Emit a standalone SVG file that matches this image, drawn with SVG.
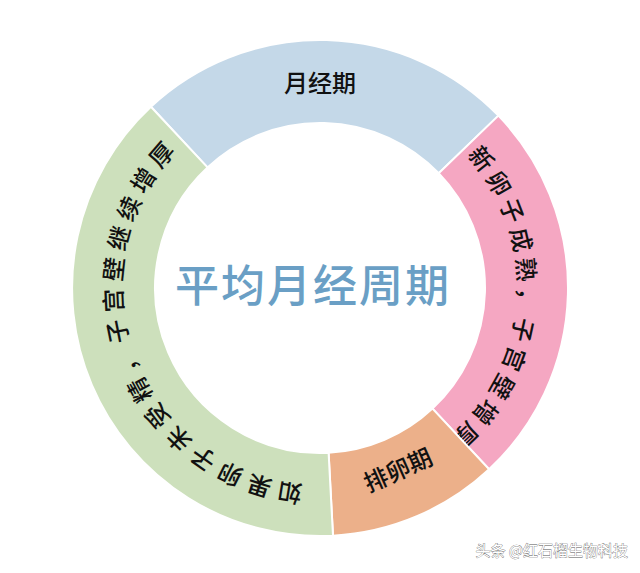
<svg xmlns="http://www.w3.org/2000/svg" width="640" height="573" viewBox="0 0 640 573">
<style>
.seg{stroke:#fff;stroke-width:2}
.lbl{font-family:"Noto Sans CJK SC",sans-serif;font-size:24px;fill:#111;font-weight:500}
</style>
<defs>
<path id="pg" d="M309.6 485.7 A198 198 0 0 1 185 143.2"/>
<path id="pp" d="M467.1 155.5 A198 198 0 0 1 447.3 439.7"/>
</defs>
<rect width="640" height="573" fill="#fff"/>
<g id="blue"><path class="seg" fill="#c4d8e8" d="M150.9 106.7 A248 248 0 0 1 498.4 115.6 L438.7 173.3 A165 165 0 0 0 207.5 167.4Z"/><text class="lbl" x="320" y="92" text-anchor="middle">月经期</text></g>
<g id="pink"><path class="seg" fill="#f5a7c2" d="M498.4 115.6 A248 248 0 0 1 489.1 469.3 L432.5 408.6 A165 165 0 0 0 438.7 173.3Z"/><text class="lbl" letter-spacing="5"><textPath href="#pp" startOffset="50%" text-anchor="middle">新卵子成熟，子宫壁增厚</textPath></text></g>
<g id="orange"><path class="seg" fill="#ecb08a" d="M489.1 469.3 A248 248 0 0 1 333 535.7 L328.6 452.8 A165 165 0 0 0 432.5 408.6Z"/><text class="lbl" x="398" y="479" text-anchor="middle" transform="rotate(-24 398 470)">排卵期</text></g>
<g id="green"><path class="seg" fill="#cde0bc" d="M333 535.7 A248 248 0 0 1 150.9 106.7 L207.5 167.4 A165 165 0 0 0 328.6 452.8Z"/><text class="lbl" letter-spacing="6"><textPath href="#pg" startOffset="50%" text-anchor="middle">如果卵子未受精，子宫壁继续增厚</textPath></text></g>
<g id="center"><text x="313" y="302" text-anchor="middle" font-family="Noto Sans CJK SC,sans-serif" font-size="44" font-weight="500" fill="#6a9fc5" letter-spacing="2">平均月经周期</text></g>
<g id="connectors"/>
<text x="628" y="556" text-anchor="end" font-family="Noto Sans CJK SC,sans-serif" font-size="15" fill="#fff" stroke="#555" stroke-width="0.6" paint-order="stroke">头条 @红石榴生物科技</text>
</svg>
